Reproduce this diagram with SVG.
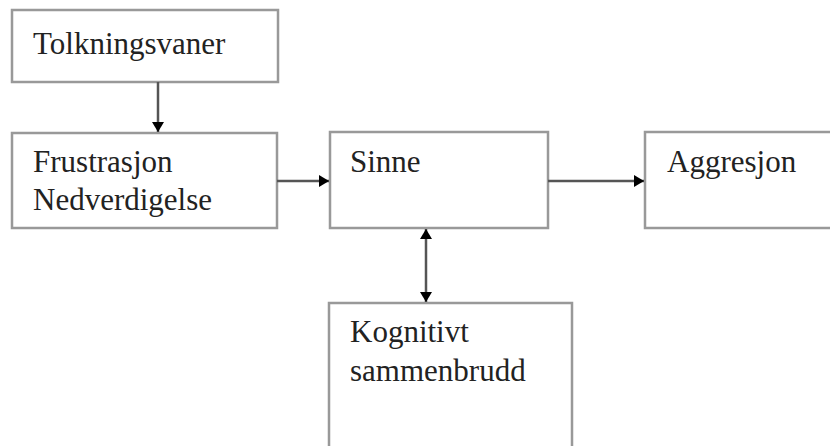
<svg xmlns="http://www.w3.org/2000/svg" width="830" height="446" viewBox="0 0 830 446">
<defs>
<style>
.box{fill:#fff;stroke:#999;stroke-width:2.5}
text{font-family:'Liberation Serif','Tinos','DejaVu Serif',serif;font-size:31px;fill:#222}
.c{stroke:#555;stroke-width:2.5;fill:none}
</style>
<marker id="ah" viewBox="0 0 10 12" refX="10" refY="6" markerWidth="10" markerHeight="12" markerUnits="userSpaceOnUse" orient="auto-start-reverse">
<path d="M0,0 L10,6 L0,12 Z" fill="#000"/>
</marker>
</defs>
<rect width="830" height="446" fill="#fff"/>
<g id="tolkningsvaner"><rect class="box" x="12" y="10" width="266" height="72"/><text x="33" y="54">Tolkningsvaner</text></g>
<g id="frustrasjon"><rect class="box" x="12" y="133" width="265" height="95"/><text x="33" y="172">Frustrasjon</text><text x="33" y="210">Nedverdigelse</text></g>
<g id="sinne"><rect class="box" x="330" y="132" width="218" height="96"/><text x="350" y="172">Sinne</text></g>
<g id="aggresjon"><rect class="box" x="645" y="132" width="200" height="96"/><text x="667" y="172">Aggresjon</text></g>
<g id="kognitivt"><rect class="box" x="329" y="303" width="243" height="160"/><text x="350" y="342">Kognitivt</text><text x="350" y="381">sammenbrudd</text></g>
<g id="connectors">
<line class="c" x1="158" y1="82" x2="158" y2="132" marker-end="url(#ah)"/>
<line class="c" x1="277" y1="181" x2="329" y2="181" marker-end="url(#ah)"/>
<line class="c" x1="548" y1="181" x2="644" y2="181" marker-end="url(#ah)"/>
<line class="c" x1="426" y1="229" x2="426" y2="302" marker-start="url(#ah)" marker-end="url(#ah)"/>
</g>
</svg>
